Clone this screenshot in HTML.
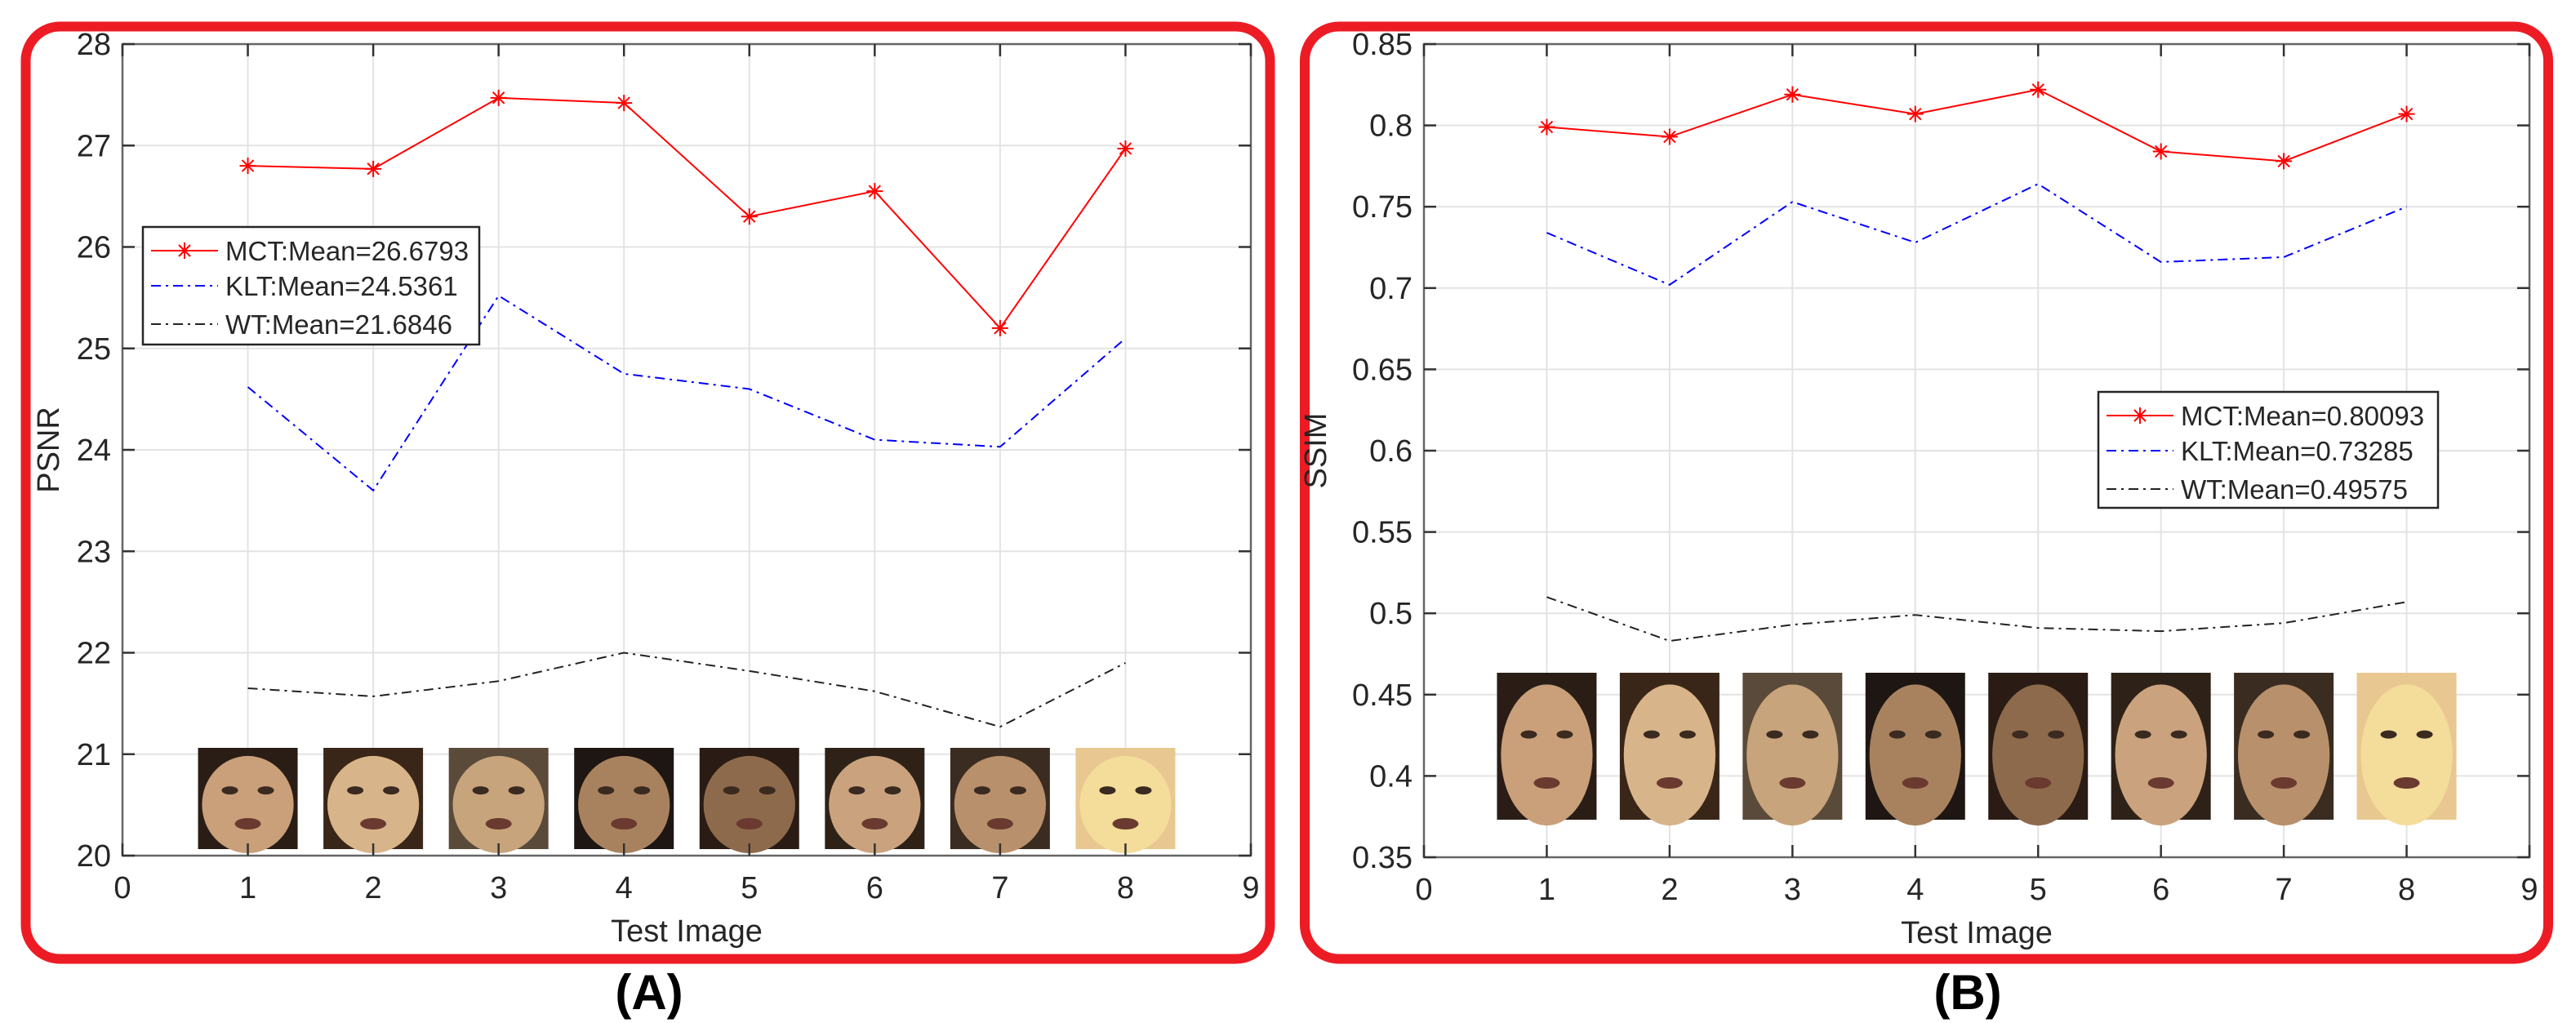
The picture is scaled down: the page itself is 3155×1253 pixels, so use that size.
<!DOCTYPE html>
<html><head><meta charset="utf-8"><style>
html,body{margin:0;padding:0;background:#fff;}
svg{display:block;font-family:"Liberation Sans",sans-serif;}
</style></head><body>
<svg id="svg" width="3155" height="1253" viewBox="0 0 3155 1253" xmlns="http://www.w3.org/2000/svg">
<rect x="31.5" y="32.5" width="1524" height="1142" rx="42" fill="none" stroke="#ed1c24" stroke-width="12"/>
<rect x="1598" y="32.5" width="1523" height="1142" rx="42" fill="none" stroke="#ed1c24" stroke-width="12"/>
<text x="795" y="1236" font-size="60" font-weight="bold" text-anchor="middle" fill="#000">(A)</text>
<text x="2410" y="1236" font-size="60" font-weight="bold" text-anchor="middle" fill="#000">(B)</text>
<g id="pa"></g>
<g id="pb"></g>
</svg>
<script>
const categories = [1,2,3,4,5,6,7,8];
const xTicks = [0,1,2,3,4,5,6,7,8,9];
const psnrMCT = [26.80, 26.77, 27.47, 27.42, 26.30, 26.55, 25.20, 26.97];
const psnrKLT = [24.62, 23.60, 25.52, 24.75, 24.60, 24.10, 24.03, 25.10];
const psnrWT  = [21.65, 21.57, 21.72, 22.00, 21.82, 21.62, 21.27, 21.90];
const psnrTicks = [20,21,22,23,24,25,26,27,28];
const psnrTickLabels = ["20","21","22","23","24","25","26","27","28"];
const psnrLegend = ["MCT:Mean=26.6793","KLT:Mean=24.5361","WT:Mean=21.6846"];
const ssimMCT = [0.799, 0.793, 0.819, 0.807, 0.822, 0.784, 0.778, 0.807];
const ssimKLT = [0.734, 0.702, 0.753, 0.728, 0.764, 0.716, 0.719, 0.750];
const ssimWT  = [0.510, 0.483, 0.493, 0.499, 0.491, 0.489, 0.494, 0.507];
const ssimTicks = [0.35,0.4,0.45,0.5,0.55,0.6,0.65,0.7,0.75,0.8,0.85];
const ssimTickLabels = ["0.35","0.4","0.45","0.5","0.55","0.6","0.65","0.7","0.75","0.8","0.85"];
const ssimLegend = ["MCT:Mean=0.80093","KLT:Mean=0.73285","WT:Mean=0.49575"];
const faceSkin = ["#c9a07a","#d8b48a","#c7a47c","#a8825e","#8e6a4c","#caa37e","#b9906c","#f4dc9a"];
const faceHair = ["#2a1d16","#3a2618","#5a4a3a","#1e1612","#2a1c14","#2e2218","#3a2c20","#e8c890"];

const NS = "http://www.w3.org/2000/svg";
function mk(parent, tag, attrs){const e=document.createElementNS(NS,tag);for(const k in attrs)e.setAttribute(k,attrs[k]);parent.appendChild(e);return e;}

function chart(g, cfg){
  const L=cfg.left,R=cfg.right,T=cfg.top,B=cfg.bottom;
  const xs=v=>L+(v-0)/(9-0)*(R-L);
  const ys=v=>B-(v-cfg.ymin)/(cfg.ymax-cfg.ymin)*(B-T);
  // grid
  xTicks.forEach(t=>{ if(t>0&&t<9){const l=mk(g,'line',{x1:xs(t),x2:xs(t),y1:T,y2:B,stroke:'#e3e3e3','stroke-width':2});
    
    }});
  cfg.ticks.forEach(t=>{ const l=mk(g,'line',{x1:L,x2:R,y1:ys(t),y2:ys(t),stroke:'#e3e3e3','stroke-width':2});
    
    });
  // faces
  categories.forEach((c,i)=>{
    const cx=xs(c),w=122,y0=cfg.faceTop,h=cfg.faceH;
    const fg=mk(g,'g',{});
    
    
    mk(fg,'rect',{x:cx-w/2,y:y0,width:w,height:h,fill:faceHair[i]});
    mk(fg,'ellipse',{cx:cx,cy:y0+h*0.56,rx:w*0.46,ry:h*0.48,fill:faceSkin[i]});
    mk(fg,'ellipse',{cx:cx-22,cy:y0+h*0.42,rx:10,ry:5,fill:'#3a2a20'});
    mk(fg,'ellipse',{cx:cx+22,cy:y0+h*0.42,rx:10,ry:5,fill:'#3a2a20'});
    mk(fg,'ellipse',{cx:cx,cy:y0+h*0.75,rx:16,ry:7,fill:'#6a3a30'});
  });
  // axes box
  const ax=mk(g,'rect',{x:L,y:T,width:R-L,height:B-T,fill:'none',stroke:'#666','stroke-width':2.5});
  
  
  xTicks.forEach(t=>{
    mk(g,'line',{x1:xs(t),x2:xs(t),y1:B,y2:B-15,stroke:'#333','stroke-width':2.5});
    mk(g,'line',{x1:xs(t),x2:xs(t),y1:T,y2:T+15,stroke:'#333','stroke-width':2.5});
    const tx=mk(g,'text',{x:xs(t),y:B+52,'font-size':38,'text-anchor':'middle',fill:'#262626'});
    tx.textContent=String(t);
    
    
  });
  cfg.ticks.forEach((t,i)=>{
    mk(g,'line',{x1:L,x2:L+15,y1:ys(t),y2:ys(t),stroke:'#333','stroke-width':2.5});
    mk(g,'line',{x1:R,x2:R-15,y1:ys(t),y2:ys(t),stroke:'#333','stroke-width':2.5});
    const tx=mk(g,'text',{x:L-14,y:ys(t)+13,'font-size':38,'text-anchor':'end',fill:'#262626'});
    tx.textContent=cfg.tickLabels[i];
    
    
  });
  const xt=mk(g,'text',{x:(L+R)/2,y:B+105,'font-size':38,'text-anchor':'middle',fill:'#262626'});
  xt.textContent='Test Image';
  
  
  const yt=mk(g,'text',{x:0,y:0,'font-size':38,'text-anchor':'middle',fill:'#262626',transform:`translate(${cfg.ytX},${(T+B)/2}) rotate(-90)`});
  yt.textContent=cfg.ytitle;
  
  
  // series
  const series=[
    {d:cfg.mct,c:'#ff0000',dash:'',name:'series-mct',marker:true},
    {d:cfg.klt,c:'#0000ff',dash:'12,6,3,6',name:'series-klt'},
    {d:cfg.wt,c:'#222',dash:'12,6,3,6',name:'series-wt'}];
  series.forEach(s=>{
    const pts=s.d.map((v,i)=>xs(categories[i])+','+ys(v)).join(' ');
    const p=mk(g,'polyline',{points:pts,fill:'none',stroke:s.c,'stroke-width':2,'stroke-dasharray':s.dash});
    
    
    if(s.marker) s.d.forEach((v,i)=>star(g,xs(categories[i]),ys(v),s.c));
  });
  // legend
  const lg=mk(g,'g',{});
  
  
  mk(lg,'rect',{x:cfg.lx,y:cfg.ly,width:cfg.lw,height:cfg.lh,fill:'#fff',stroke:'#262626','stroke-width':2.5});
  const rows=[cfg.ly+29,cfg.ly+72,cfg.ly+119];
  series.forEach((s,i)=>{
    const yy=rows[i];
    mk(lg,'line',{x1:cfg.lx+10,x2:cfg.lx+92,y1:yy,y2:yy,stroke:s.c,'stroke-width':2,'stroke-dasharray':s.dash});
    if(s.marker) star(lg,cfg.lx+51,yy,s.c);
    const t=mk(lg,'text',{x:cfg.lx+101,y:yy+12,'font-size':33,fill:'#262626'});
    t.textContent=cfg.legend[i];
    
    
  });
}
function star(g,x,y,c){
  const r=10;
  const s=mk(g,'path',{d:`M${x-r},${y}H${x+r}M${x},${y-r}V${y+r}M${x-7},${y-7}L${x+7},${y+7}M${x-7},${y+7}L${x+7},${y-7}`,stroke:c,'stroke-width':2,fill:'none'});
  
  
}
chart(document.getElementById('pa'),{left:150,right:1532,top:54,bottom:1048,ymin:20,ymax:28,ticks:psnrTicks,tickLabels:psnrTickLabels,
  mct:psnrMCT,klt:psnrKLT,wt:psnrWT,legend:psnrLegend,lx:175,ly:278,lw:412,lh:144,ytitle:'PSNR',ytX:72,faceTop:916,faceH:124});
chart(document.getElementById('pb'),{left:1744,right:3098,top:54,bottom:1050,ymin:0.35,ymax:0.85,ticks:ssimTicks,tickLabels:ssimTickLabels,
  mct:ssimMCT,klt:ssimKLT,wt:ssimWT,legend:ssimLegend,lx:2570,ly:480,lw:416,lh:142,ytitle:'SSIM',ytX:1624,faceTop:824,faceH:180});
</script>
</body></html>
